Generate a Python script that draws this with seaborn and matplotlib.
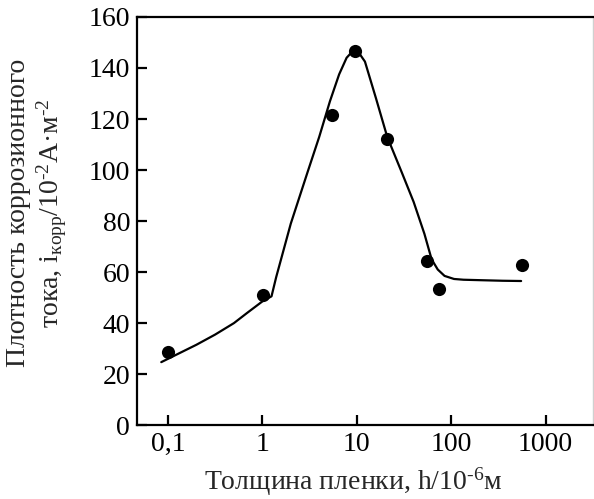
import matplotlib
matplotlib.use("Agg")
import matplotlib.pyplot as plt
import seaborn as sns
import pandas as pd

# measured points
h_points = [0.1, 1.02, 5.4, 9.5, 21, 55, 74, 560]
i_points = [28.6, 51, 121.6, 146.5, 112, 64.3, 53.3, 62.7]

# fitted curve
h_curve = [0.085, 0.2, 0.316, 0.5, 0.69, 1.0, 1.25, 1.4, 2.0, 3.0, 4.0, 5.2, 6.5, 7.8, 9.0, 10.5, 12.2, 16, 21,
           30, 40, 52, 62, 72, 85, 107, 135, 215, 350, 550]
i_curve = [24.7, 31.5, 35.5, 40, 44, 48.5, 50.5, 58, 79, 99, 113, 127, 137.5, 144, 146.5, 146, 142.5, 128, 113,
           99, 87.5, 75, 65, 61, 58.5, 57.3, 57, 56.8, 56.6, 56.5]

xticks = [0.1, 1, 10, 100, 1000]
xtick_labels = ["0,1", "1", "10", "100", "1000"]
yticks = [0, 20, 40, 60, 80, 100, 120, 140, 160]

sns.set_theme(style="ticks")
plt.rcParams['font.family'] = ['Liberation Serif', 'DejaVu Serif']
plt.rcParams['mathtext.fontset'] = 'custom'
plt.rcParams['mathtext.rm'] = 'Liberation Serif'
plt.rcParams['mathtext.it'] = 'Liberation Serif:italic'

pts = pd.DataFrame({"h": h_points, "i": i_points})
curve = pd.DataFrame({"h": h_curve, "i": i_curve})

fig = plt.figure(figsize=(5.94, 4.99), dpi=100)
ax = fig.add_axes([0.2306, 0.148, 0.767, 0.818])

sns.lineplot(data=curve, x="h", y="i", ax=ax, color="black", linewidth=1.6, sort=False, estimator=None)
sns.scatterplot(data=pts, x="h", y="i", ax=ax, color="black", s=90, edgecolor="black", linewidth=0, zorder=3)

ax.set_xscale("log")
ax.set_xlim(0.047, 3140)
ax.set_ylim(0, 160)
ax.set_xticks(xticks)
ax.set_xticklabels(xtick_labels)
ax.minorticks_off()
ax.set_yticks(yticks)

ax.tick_params(direction="in", length=7, width=1.6, labelsize=20, colors="black", pad=5)
for side in ["left", "bottom", "top"]:
    ax.spines[side].set_linewidth(1.6)
    ax.spines[side].set_color("black")
ax.spines["right"].set_linewidth(1.0)
ax.spines["right"].set_color("#d0d0d0")

ax.set_xlabel("Толщина пленки, h/10$^{\\mathregular{\u20106}}$м", fontsize=20, labelpad=6)
ax.xaxis.set_label_coords(0.475, -0.1)
ax.set_ylabel("Плотность коррозионного\nтока, i$_{\\mathregular{корр}}$/10$^{\\mathregular{\u20102}}$А·м$^{\\mathregular{\u20102}}$",
              fontsize=20, linespacing=1.15)
ax.yaxis.set_label_coords(-0.15, 0.52)

fig.savefig("out.png", dpi=100)
